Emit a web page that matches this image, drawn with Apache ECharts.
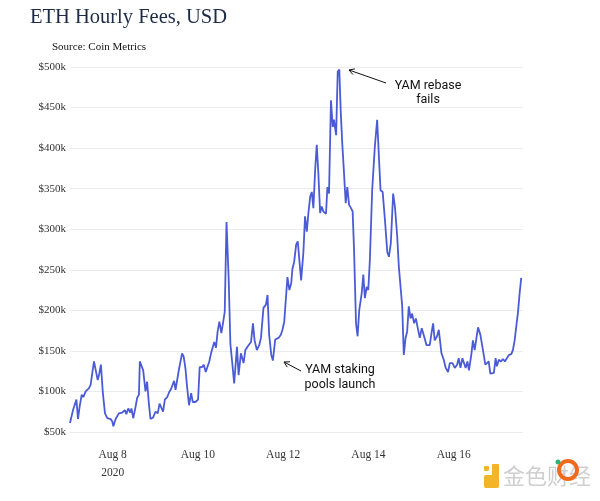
<!DOCTYPE html>
<html>
<head>
<meta charset="utf-8">
<script src="https://cdn.jsdelivr.net/npm/echarts@6/dist/echarts.min.js"></script>
<style>
html,body{margin:0;padding:0;background:#fff;}
#chart{width:600px;height:501px;}
</style>
</head>
<body>
<div id="chart"></div>
<script>
// hours since 2020-08-07 00:00
var hours = [0,1,1.7,2.6,3.6,4.5,5.4,6.6,7.5,8.8,9.75,10.7,11.6,12.6,13.5,14.4,15.6,16.5,17.4,18.5,19.7,21,22.9,23.8,24.4,25.7,27.5,28.5,29.4,30.9,31.7,32.8,33.9,34.6,35.6,36.9,37.8,38.8,39.3,40.3,41.2,42.5,43.4,44.4,45.3,46.8,48.1,49.4,50.4,51.5,52.4,53.4,54.7,55.8,56.9,57.9,58.6,59.4,60.3,61.4,62.2,63.1,64.0,65.0,65.9,67.0,68.2,69.1,70.6,72.1,73.0,74.3,75.3,76.4,77.1,78.4,79.4,80.3,81.2,82.2,83.1,84.1,85.2,86.1,87.1,88.1,89.3,90.3,91.3,92.4,94.0,94.9,96.2,97.7,98.7,99.6,100.5,101.9,103.0,103.9,105.2,106.5,107.5,108.9,110.3,111.2,112.1,113.3,114.2,115.5,117.4,118.7,119.6,120.6,121.5,122.4,123.5,124.5,125.2,126.2,127.3,128.2,130.1,131.4,132.3,133.3,134.2,135.2,136.1,137.0,138.0,138.9,139.8,140.8,141.7,142.6,144.1,144.9,145.8,146.9,147.9,148.6,149.8,150.7,151.6,152.4,153.3,154.2,155.2,156.1,157.1,158.2,159.1,159.9,161.0,161.9,162.8,164.2,165.1,166.0,167.0,167.9,168.8,170.1,171.6,172.9,173.9,174.8,176.0,177.3,178.6,179.5,180.6,181.9,182.9,184.2,185.1,186.1,187.0,187.9,188.9,189.8,190.7,191.7,192.6,193.7,194.7,195.6,196.9,198.0,199.3,200.7,202.5,203.5,204.4,205.3,206.6,207.6,209.1,210.4,211.5,212.8,213.8,215.3,216.6,217.9,218.8,219.8,220.9,221.8,222.7,223.7,224.6,226.0,226.8,227.8,228.8,229.7,231.0,231.9,232.9,233.8,234.7,235.7,236.6,237.5,238.6,239.6,240.3,241.4,242.6,243.7,244.8,245.9,247.1,248.4,249.3,250.3,251.2,252.1,253.1,254.0];
// hourly fees, thousands of USD
var fees = [61,61,77,79,90,66,81,96,93,100,102,104,108,109,137,139,114,122,133,98,73,67,66,63,57,66,73,71,74,77,72,79,74,79,67,81,92,96,137,137,126,100,112,85,66,68,75,73,85,83,75,90,93,99,103,101,113,102,100,128,137,147,143,128,106,83,98,87,87,90,130,130,133,124,125,137,147,149,161,154,174,186,172,184,198,309,240,158,136,110,155,120,147,135,151,149,157,161,184,163,151,157,166,203,207,219,170,145,138,164,166,170,176,186,188,241,225,233,251,260,281,285,237,272,316,297,320,340,346,326,373,404,369,320,328,322,319,352,344,459,426,435,416,494,497,445,404,371,332,352,330,326,322,274,184,168,200,221,244,215,229,225,262,348,402,435,435,348,346,311,272,266,283,344,328,291,254,252,205,145,166,174,205,190,196,184,190,180,166,178,168,157,157,172,184,163,168,176,147,139,129,124,135,135,129,133,141,129,141,140,129,137,126,147,163,151,166,179,170,168,145,133,133,137,122,124,123,141,131,139,137,140,137,141,145,146,151,163,180,196,221,240];
var tickHours = [24,72,120,168,216];
var tickLabels = ['Aug 8\n2020','Aug 10','Aug 12','Aug 14','Aug 16'];

var seriesData = hours.map(function(h,i){return [h, fees[i]];});

function arrow(x1,y1,x2,y2){
  var dx=x2-x1, dy=y2-y1, L=Math.sqrt(dx*dx+dy*dy); dx/=L; dy/=L;
  var s=6, a=Math.PI/6, c=Math.cos(a), sn=Math.sin(a);
  var p1=[x2 - s*(dx*c - dy*sn), y2 - s*(dx*sn + dy*c)];
  var p2=[x2 - s*(dx*c + dy*sn), y2 - s*(-dx*sn + dy*c)];
  var st={stroke:'#111',lineWidth:1,fill:null};
  return [
    {type:'line',shape:{x1:x1,y1:y1,x2:x2,y2:y2},style:st,silent:true},
    {type:'polyline',shape:{points:[p1,[x2,y2],p2]},style:st,silent:true}
  ];
}

var chart = echarts.init(document.getElementById('chart'));
var graphics = [
  {type:'text',left:30,top:7,style:{text:'ETH Hourly Fees, USD',fill:'#1d2b47',font:'20.5px "Liberation Serif"'}},
  {type:'text',left:52,top:42,style:{text:'Source: Coin Metrics',fill:'#111',font:'11px "Liberation Serif"'}},
  {type:'text',x:428,y:79,style:{text:'YAM rebase\nfails',fill:'#111',font:'12.5px Roboto',textAlign:'center',lineHeight:14}},
  {type:'text',x:340,y:362,style:{text:'YAM staking\npools launch',fill:'#111',font:'12.5px Roboto',textAlign:'center',lineHeight:15}},
  // watermark
  {type:'rect',shape:{x:484,y:475,width:15,height:13,r:2},style:{fill:'#f2b52a'}},
  {type:'rect',shape:{x:492,y:464,width:7,height:12,r:1},style:{fill:'#f2b52a'}},
  {type:'rect',shape:{x:484,y:466,width:5,height:5,r:1},style:{fill:'#f2b52a'}},
  {type:'text',left:503,top:465,style:{text:'金色财经',fill:'#cfcfcf',font:'22px "Noto Sans CJK SC"'}},
  {type:'circle',shape:{cx:568,cy:470,r:9},style:{fill:null,stroke:'#f06a1e',lineWidth:4}},
  {type:'circle',shape:{cx:558,cy:462,r:2.5},style:{fill:'#2bb673'}}
].concat(arrow(386,83,349,70)).concat(arrow(301,371,284,362));

chart.setOption({
  animation:false,
  backgroundColor:'#fff',
  grid:{left:70,right:77,top:67,bottom:69},
  xAxis:{
    type:'value',min:0,max:255,interval:24,
    axisLine:{show:false},axisTick:{show:false},splitLine:{show:false},
    axisLabel:{
      margin:14,color:'#333',fontFamily:'Liberation Serif',fontSize:11.5,lineHeight:18,
      showMaxLabel:false,showMinLabel:false,
      formatter:function(v){var i=tickHours.indexOf(v);return i>=0?tickLabels[i]:'';}
    }
  },
  yAxis:{
    type:'value',min:50,max:500,interval:50,
    axisLine:{show:false},axisTick:{show:false},
    splitLine:{lineStyle:{color:'#ececec',width:1}},
    axisLabel:{margin:4,color:'#333',fontFamily:'Liberation Serif',fontSize:11,formatter:function(v){return '$'+v+'k';}}
  },
  series:[{type:'line',data:seriesData,showSymbol:false,lineStyle:{color:'#4b5bd6',width:1.8},itemStyle:{color:'#4b5bd6'}}],
  graphic:graphics
});
</script>
</body>
</html>
